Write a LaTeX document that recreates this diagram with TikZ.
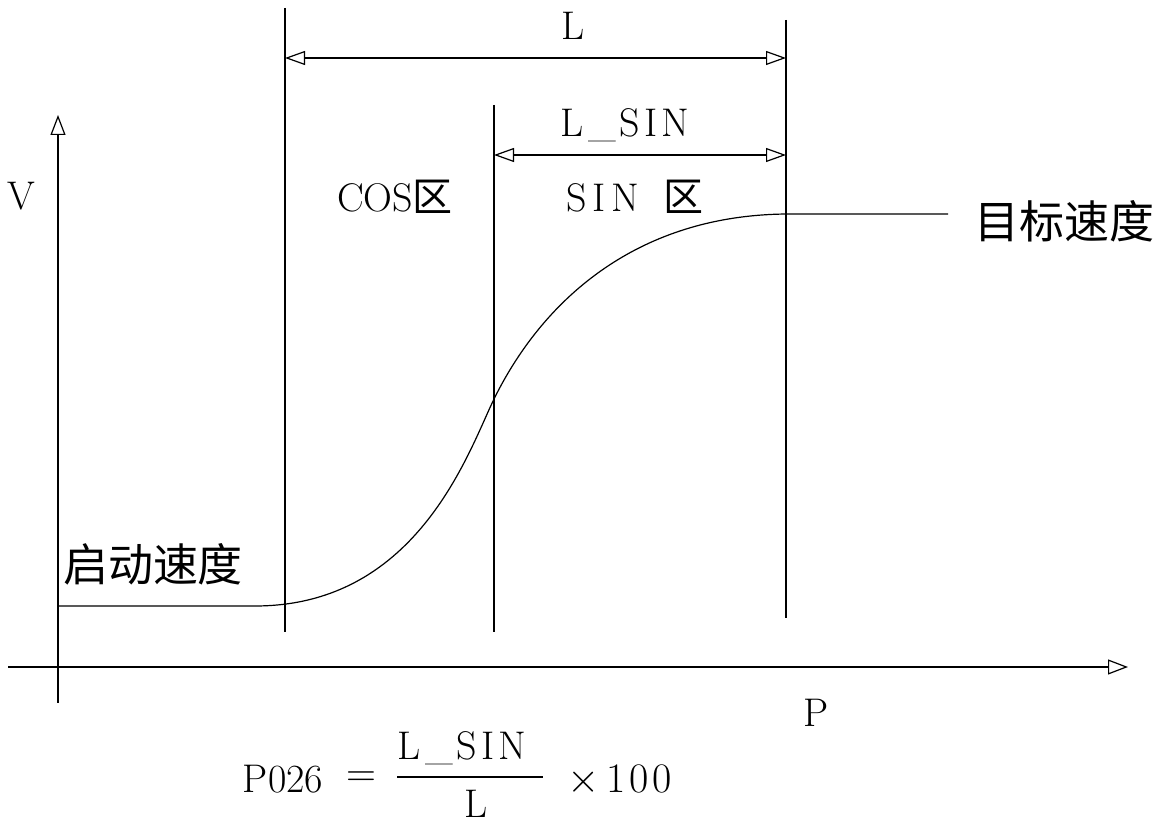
\documentclass[tikz,border=0pt]{standalone}
\usepackage{amsmath}
\usepackage{fontspec}
\newfontfamily\cjk{Noto Sans CJK SC}
\usetikzlibrary{arrows.meta}

\newcommand{\lsp}{\kern2pt}

\tikzset{
  tip/.style={-{Triangle[open,length=10pt,width=7.5pt]}},
  dimline/.style={{Triangle[open,length=10pt,width=7pt]}-{Triangle[open,length=10pt,width=7pt]}},
  lbl/.style={font=\fontsize{20}{24}\selectfont, inner sep=0pt, anchor=base},
  cjklbl/.style={font=\fontsize{22.5}{26}\selectfont\cjk, inner sep=0pt}
}

\begin{document}
\begin{tikzpicture}[x=0.5pt,y=-0.5pt,line width=0.6pt]
\useasboundingbox (0,0) rectangle (1164,823);

\coordinate (vbot) at (58,703);
\coordinate (vtop) at (58,115);
\coordinate (hleft) at (8,667);
\coordinate (hright) at (1128,667);
\draw[tip] (vbot) -- (vtop);
\draw[tip] (hleft) -- (hright);

\coordinate (atop) at (285,8);
\coordinate (abot) at (285,632);
\coordinate (btop) at (494,105);
\coordinate (bbot) at (494,632);
\coordinate (ctop) at (786,20);
\coordinate (cbot) at (786,618);
\draw (atop) -- (abot);
\draw (btop) -- (bbot);
\draw (ctop) -- (cbot);

\coordinate (la) at (285,58);
\coordinate (lc) at (786,58);
\coordinate (sb) at (494,155);
\coordinate (sc) at (786,155);
\draw[dimline] (la) -- (lc);
\draw[dimline] (sb) -- (sc);

\node[lbl] (lL) at (573,40) {L};
\node[lbl] (lSin) at (625,137) {L\lsp\_\lsp S\lsp I\lsp N};
\node[lbl] (cosz) at (395,212) {COS{\cjk 区}};
\node[lbl] (sinz) at (635,212) {S\kern3pt I\kern3pt N\ \ {\cjk 区}};
\node[lbl] (vV) at (21,210) {V};
\node[lbl] (pP) at (816,727) {P};
\node[cjklbl] (target) at (1064,221) {目标速度};
\node[cjklbl] (start) at (153,564) {启动速度};

\coordinate (v0) at (58,606);
\coordinate (v1) at (255,606);
\coordinate (vm) at (495,397);
\coordinate (v2) at (790,214);
\coordinate (v3) at (948,214);
\draw (v0) -- (v1) .. controls (420,606) and (470,447) .. (vm)
  .. controls (545,297) and (640,214) .. (v2) -- (v3);

\node[lbl] (p026) at (283,793) {P026};
\node[lbl, anchor=center] (eq) at (361,779) {$=$};
\node[lbl] (num) at (462,760) {L\lsp\_\lsp S\lsp I\lsp N};
\coordinate (barl) at (397,777);
\coordinate (barr) at (543,777);
\draw (barl) -- (barr);
\node[lbl] (den) at (476,818) {L};
\node[lbl,font=\fontsize{21}{25}\selectfont] (times) at (620,793) {$\times$\kern3pt 1\kern2pt 0\kern2pt 0};

\end{tikzpicture}
\end{document}
